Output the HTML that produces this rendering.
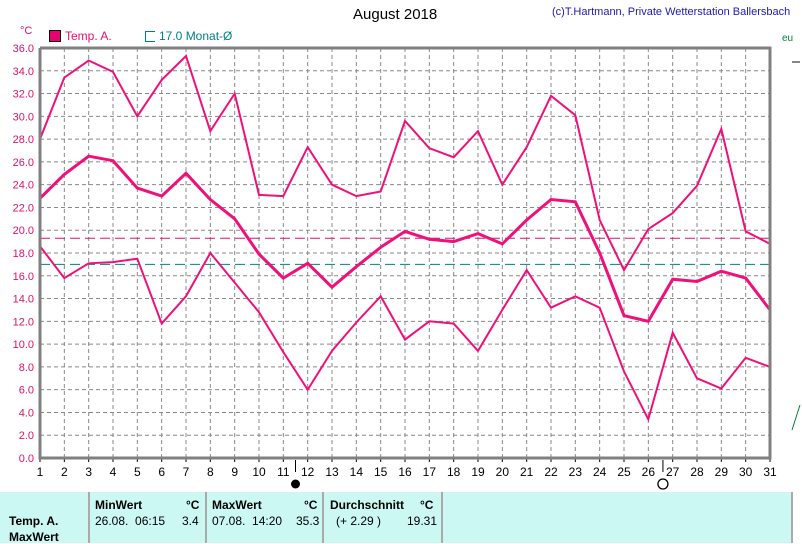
<!DOCTYPE html><html><head><meta charset="utf-8"><style>
body{margin:0;width:802px;height:543px;background:#fff;overflow:hidden;font-family:"Liberation Sans",sans-serif;position:relative}
.t{position:absolute;white-space:nowrap}
</style></head><body>
<svg id="s" width="802" height="543" style="position:absolute;left:0;top:0" xmlns="http://www.w3.org/2000/svg"></svg>
<div class="t" style="left:353px;top:6px;font-size:15px">August 2018</div>
<div class="t" style="left:552px;top:6px;font-size:11px;color:#1a1ab0">(c)T.Hartmann, Private Wetterstation Ballersbach</div>
<div class="t" style="left:20px;top:25px;font-size:11px;color:#e0106e">°C</div>
<div class="t" style="left:49px;top:30px;width:10px;height:10px;background:#e8006e;border:1px solid #000"></div>
<div class="t" style="left:65px;top:29px;font-size:12px;color:#e0106e">Temp. A.</div>
<div class="t" style="left:145px;top:31px;width:9px;height:9px;border:1px solid #008080;border-right:none"></div>
<div class="t" style="left:159px;top:29px;font-size:12px;color:#008080">17.0 Monat-Ø</div>
<div class="t" style="left:782px;top:33px;font-size:10px;color:#008040">eu</div>
<div class="t" style="left:0;top:492px;width:792px;height:51px;background:#ccf8f4"></div>
<div class="t" style="left:88px;top:492px;width:2px;height:51px;background:#aaa"></div>
<div class="t" style="left:205px;top:492px;width:2px;height:51px;background:#aaa"></div>
<div class="t" style="left:322px;top:492px;width:2px;height:51px;background:#aaa"></div>
<div class="t" style="left:441px;top:492px;width:2px;height:51px;background:#aaa"></div>
<div class="t" style="left:791px;top:492px;width:2px;height:51px;background:#aaa"></div>
<div class="t" style="left:9px;top:514px;font-size:12px;font-weight:bold">Temp. A.</div>
<div class="t" style="left:9px;top:530px;font-size:12px;font-weight:bold">MaxWert</div>
<div class="t" style="left:95px;top:498px;font-size:12px;font-weight:bold">MinWert</div>
<div class="t" style="left:186px;top:498px;font-size:12px;font-weight:bold">°C</div>
<div class="t" style="left:95px;top:514px;font-size:12px">26.08.&nbsp; 06:15</div>
<div class="t" style="left:182px;top:514px;font-size:12px">3.4</div>
<div class="t" style="left:212px;top:498px;font-size:12px;font-weight:bold">MaxWert</div>
<div class="t" style="left:304px;top:498px;font-size:12px;font-weight:bold">°C</div>
<div class="t" style="left:212px;top:514px;font-size:12px">07.08.&nbsp; 14:20</div>
<div class="t" style="left:296px;top:514px;font-size:12px">35.3</div>
<div class="t" style="left:330px;top:498px;font-size:12px;font-weight:bold">Durchschnitt</div>
<div class="t" style="left:420px;top:498px;font-size:12px;font-weight:bold">°C</div>
<div class="t" style="left:336px;top:514px;font-size:12px">(+ 2.29 )</div>
<div class="t" style="left:407px;top:514px;font-size:12px">19.31</div>
<script>
var s=document.getElementById('s'),h='';
var L=40,R=770,T=48,B=458,dx=(R-L)/30;
function X(d){return L+(d-1)*dx}function Y(v){return B-v/36*(B-T)}
for(var d=2;d<=30;d++)h+='<line x1="'+X(d)+'" y1="'+T+'" x2="'+X(d)+'" y2="'+B+'" stroke="#888" stroke-dasharray="4,3"/>';
for(var v=2;v<36;v+=2)h+='<line x1="'+L+'" y1="'+Y(v)+'" x2="'+R+'" y2="'+Y(v)+'" stroke="#888" stroke-dasharray="4,3"/>';
for(var v=0;v<=36;v+=2)h+='<text x="34" y="'+(Y(v)+4)+'" font-size="11" fill="#e0106e" text-anchor="end" font-family="Liberation Sans">'+v.toFixed(1)+'</text>';
for(var d=1;d<=31;d++)h+='<line x1="'+X(d)+'" y1="'+B+'" x2="'+X(d)+'" y2="'+(B+4)+'" stroke="#000"/><text x="'+X(d)+'" y="'+(B+18)+'" font-size="12" text-anchor="middle" font-family="Liberation Sans">'+d+'</text>';
h+='<line x1="'+X(11.5)+'" y1="'+(B+2)+'" x2="'+X(11.5)+'" y2="'+(B+14)+'" stroke="#000"/><circle cx="'+X(11.5)+'" cy="484" r="4.5"/>';
h+='<line x1="'+X(26.6)+'" y1="'+(B+2)+'" x2="'+X(26.6)+'" y2="'+(B+14)+'" stroke="#000"/><circle cx="'+X(26.6)+'" cy="484" r="5" fill="none" stroke="#000" stroke-width="1.3"/>';
h+='<line x1="'+L+'" y1="'+Y(19.3)+'" x2="'+R+'" y2="'+Y(19.3)+'" stroke="#e0106e" stroke-dasharray="10,5"/>';
h+='<line x1="'+L+'" y1="'+Y(17)+'" x2="'+R+'" y2="'+Y(17)+'" stroke="#008080" stroke-dasharray="10,5"/>';
var mx=[28.0,33.4,34.9,33.9,30.0,33.2,35.3,28.7,32.0,23.1,23.0,27.3,24.0,23.0,23.4,29.6,27.2,26.4,28.7,24.0,27.3,31.8,30.1,20.9,16.5,20.1,21.5,23.9,28.9,19.9,18.8];
var av=[22.8,24.9,26.5,26.1,23.7,23.0,25.0,22.7,21.0,17.9,15.8,17.1,15.0,16.8,18.5,19.9,19.2,19.0,19.7,18.8,20.9,22.7,22.5,18.0,12.5,12.0,15.7,15.5,16.4,15.8,13.0];
var mn=[18.6,15.8,17.1,17.2,17.5,11.8,14.2,18.0,15.4,12.8,9.3,6.0,9.4,11.9,14.2,10.4,12.0,11.8,9.4,13.0,16.5,13.2,14.2,13.2,7.6,3.4,11.0,7.0,6.1,8.8,8.0];
function pl(a,w){var p=a.map(function(v,i){return X(i+1).toFixed(1)+','+Y(v).toFixed(1)}).join(' ');h+='<polyline points="'+p+'" fill="none" stroke="#f0107a" stroke-width="'+w+'"/>';}
pl(mx,2);pl(mn,2);pl(av,3);
h+='<polyline points="'+L+','+T+' '+R+','+T+' '+R+','+B+' '+L+','+B+' '+L+','+T+'" fill="none" stroke="#808080" stroke-width="3"/>';
h+='<line x1="792" y1="62" x2="800" y2="62" stroke="#888" stroke-width="2"/><line x1="792" y1="430" x2="800" y2="405" stroke="#008040"/>';
s.innerHTML=h;
</script>
</body></html>
